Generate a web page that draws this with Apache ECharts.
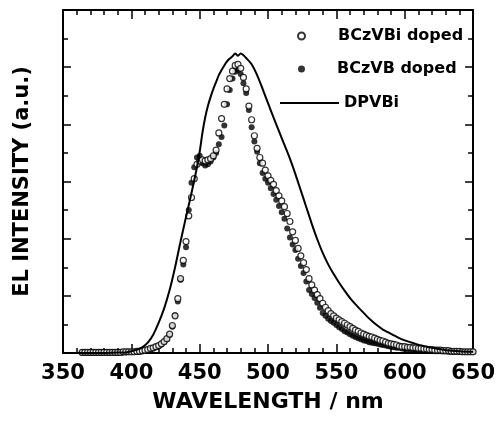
<!DOCTYPE html>
<html>
<head>
<meta charset="utf-8">
<script src="https://cdn.jsdelivr.net/npm/echarts@6/dist/echarts.min.js"></script>
<style>
  html, body { margin: 0; padding: 0; background: #fff; }
  #chart { width: 498px; height: 421px; }
</style>
</head>
<body>
<div id="chart"></div>
<script>
// wavelengths (nm) of the doped-device data points
var wavelengths = [
  364, 366, 368, 370, 372, 374, 376, 378, 380, 382,
  384, 386, 388, 390, 392, 394, 396, 398, 400, 402,
  404, 406, 408, 410, 412, 414, 416, 418, 420, 422,
  424, 426, 428, 430, 432, 434, 436, 438, 440, 442,
  444, 446, 448, 450, 452, 454, 456, 458, 460, 462,
  464, 466, 468, 470, 472, 474, 476, 478, 480, 482,
  484, 486, 488, 490, 492, 494, 496, 498, 500, 502,
  504, 506, 508, 510, 512, 514, 516, 518, 520, 522,
  524, 526, 528, 530, 532, 534, 536, 538, 540, 542,
  544, 546, 548, 550, 552, 554, 556, 558, 560, 562,
  564, 566, 568, 570, 572, 574, 576, 578, 580, 582,
  584, 586, 588, 590, 592, 594, 596, 598, 600, 602,
  604, 606, 608, 610, 612, 614, 616, 618, 620, 622,
  624, 626, 628, 630, 632, 634, 636, 638, 640, 642,
  644, 646, 648, 650
];
// BCzVBi doped (open circles)
var bczvbi = [
  0.01, 0.01, 0.01, 0.01, 0.01, 0.01, 0.01, 0.01, 0.01, 0.01,
  0.01, 0.01, 0.01, 0.01, 0.01, 0.02, 0.02, 0.02, 0.02, 0.02,
  0.03, 0.03, 0.04, 0.05, 0.06, 0.08, 0.09, 0.11, 0.13, 0.16,
  0.20, 0.25, 0.33, 0.48, 0.65, 0.95, 1.30, 1.62, 1.95, 2.40,
  2.72, 3.05, 3.30, 3.36, 3.38, 3.36, 3.38, 3.40, 3.45, 3.55,
  3.85, 4.10, 4.35, 4.62, 4.80, 4.93, 5.03, 5.05, 4.98, 4.82,
  4.62, 4.32, 4.08, 3.80, 3.58, 3.42, 3.32, 3.20, 3.10, 3.02,
  2.95, 2.84, 2.75, 2.66, 2.56, 2.44, 2.30, 2.12, 1.97, 1.83,
  1.70, 1.58, 1.46, 1.30, 1.19, 1.10, 1.02, 0.95, 0.87, 0.80,
  0.74, 0.69, 0.65, 0.61, 0.58, 0.55, 0.52, 0.49, 0.46, 0.43,
  0.40, 0.38, 0.35, 0.33, 0.31, 0.29, 0.28, 0.26, 0.24, 0.22,
  0.21, 0.19, 0.17, 0.16, 0.15, 0.14, 0.12, 0.11, 0.11, 0.10,
  0.10, 0.09, 0.09, 0.08, 0.08, 0.07, 0.07, 0.06, 0.06, 0.05,
  0.05, 0.05, 0.04, 0.04, 0.04, 0.03, 0.03, 0.03, 0.03, 0.02,
  0.02, 0.02, 0.02, 0.02
];
// BCzVB doped (filled circles)
var bczvb = [
  0.01, 0.01, 0.01, 0.01, 0.01, 0.01, 0.01, 0.01, 0.01, 0.01,
  0.01, 0.01, 0.01, 0.01, 0.01, 0.01, 0.01, 0.02, 0.02, 0.02,
  0.02, 0.02, 0.03, 0.04, 0.05, 0.06, 0.08, 0.10, 0.12, 0.15,
  0.19, 0.24, 0.32, 0.46, 0.66, 0.90, 1.28, 1.55, 1.85, 2.50,
  2.98, 3.25, 3.42, 3.45, 3.32, 3.28, 3.30, 3.35, 3.42, 3.50,
  3.65, 3.78, 3.98, 4.35, 4.60, 4.80, 4.92, 4.95, 4.88, 4.72,
  4.55, 4.25, 3.95, 3.70, 3.52, 3.32, 3.15, 3.05, 2.98, 2.88,
  2.78, 2.68, 2.57, 2.46, 2.35, 2.18, 2.02, 1.90, 1.80, 1.65,
  1.52, 1.40, 1.25, 1.10, 1.03, 0.96, 0.88, 0.79, 0.70, 0.65,
  0.60, 0.56, 0.53, 0.49, 0.45, 0.42, 0.38, 0.36, 0.33, 0.30,
  0.28, 0.26, 0.24, 0.22, 0.21, 0.19, 0.18, 0.17, 0.16, 0.15,
  0.14, 0.13, 0.12, 0.11, 0.10, 0.09, 0.09, 0.08, 0.07, 0.07,
  0.06, 0.06, 0.05, 0.05, 0.05, 0.04, 0.04, 0.04, 0.04, 0.03,
  0.03, 0.03, 0.03, 0.03, 0.02, 0.02, 0.02, 0.02, 0.02, 0.02,
  0.02, 0.02, 0.02, 0.02
];
// DPVBi (solid line)
var dpvbiWl = [
  360, 370, 380, 390, 396, 400, 404, 408, 412, 416,
  420, 424, 428, 432, 436, 440, 444, 448, 450, 452,
  454, 456, 458, 460, 462, 464, 466, 468, 470, 472,
  474, 476, 478, 480, 482, 484, 488, 492, 496, 500,
  504, 508, 512, 516, 520, 524, 528, 532, 536, 540,
  544, 548, 552, 556, 560, 564, 568, 572, 576, 580,
  584, 588, 592, 596, 600, 604, 608, 612, 616, 620,
  625, 630, 640, 650
];
var dpvbi = [
  0.00, 0.00, 0.00, 0.01, 0.01, 0.03, 0.06, 0.10, 0.18, 0.32,
  0.53, 0.78, 1.10, 1.50, 1.95, 2.38, 2.80, 3.25, 3.52, 3.85,
  4.12, 4.32, 4.48, 4.62, 4.74, 4.86, 4.95, 5.03, 5.10, 5.15,
  5.19, 5.24, 5.20, 5.24, 5.21, 5.16, 5.05, 4.86, 4.62, 4.37,
  4.12, 3.88, 3.64, 3.40, 3.13, 2.84, 2.55, 2.26, 1.99, 1.75,
  1.55, 1.38, 1.23, 1.09, 0.96, 0.85, 0.75, 0.65, 0.56, 0.48,
  0.41, 0.36, 0.31, 0.26, 0.22, 0.19, 0.16, 0.13, 0.11, 0.09,
  0.07, 0.05, 0.03, 0.02
];
var seriesNames = ['BCzVBi doped', 'BCzVB doped', 'DPVBi'];

var FONT = 'DejaVu Sans';

function pairs(xs, ys) {
  return xs.map(function (x, i) { return [x, ys[i]]; });
}

var chart = echarts.init(document.getElementById('chart'));

var tickLine = { color: '#000', width: 1.5 };
var axisLine = { show: true, onZero: false, lineStyle: { color: '#000', width: 2 } };

function xAxis(pos, labels) {
  return {
    type: 'value', position: pos, min: 350, max: 650, interval: 50,
    axisLine: axisLine,
    axisTick: { show: true, inside: true, length: 9, lineStyle: tickLine },
    minorTick: { show: true, splitNumber: 5, length: 5, lineStyle: tickLine },
    splitLine: { show: false },
    axisLabel: {
      show: labels, margin: 10, color: '#000',
      fontFamily: FONT, fontWeight: 'bold', fontSize: 21
    },
    name: labels ? 'WAVELENGTH / nm' : '',
    nameLocation: 'middle', nameGap: 38,
    nameTextStyle: { color: '#000', fontFamily: FONT, fontWeight: 'bold', fontSize: 22 }
  };
}

function yAxis(pos, title) {
  return {
    type: 'value', position: pos, min: 0, max: 6, interval: 1,
    axisLine: axisLine,
    axisTick: { show: true, inside: true, length: 8, lineStyle: tickLine },
    minorTick: { show: true, splitNumber: 2, length: 5, lineStyle: tickLine },
    splitLine: { show: false },
    axisLabel: { show: false },
    name: title ? 'EL INTENSITY (a.u.)' : '',
    nameLocation: 'middle', nameGap: 30, nameRotate: 90,
    nameTextStyle: { color: '#000', fontFamily: FONT, fontWeight: 'bold', fontSize: 21 }
  };
}

function legendText(padLeft) {
  return {
    color: '#000', fontFamily: FONT, fontWeight: 'bold', fontSize: 16,
    padding: [0, 0, 0, padLeft]
  };
}

var option = {
  animation: false,
  backgroundColor: '#fff',
  grid: { left: 63, right: 24, top: 10, bottom: 68 },
  xAxis: [xAxis('bottom', true), xAxis('top', false)],
  yAxis: [yAxis('left', true), yAxis('right', false)],
  legend: [
    {
      data: [{ name: seriesNames[0], icon: 'circle' }],
      left: 297, top: 28, padding: 0, itemWidth: 7, itemHeight: 7,
      selectedMode: false, textStyle: legendText(28)
    },
    {
      data: [{ name: seriesNames[1], icon: 'circle' }],
      left: 298, top: 61, padding: 0, itemWidth: 7, itemHeight: 7,
      selectedMode: false, textStyle: legendText(27)
    },
    {
      data: [{ name: seriesNames[2], icon: 'rect' }],
      left: 280, top: 95, padding: 0, itemWidth: 59, itemHeight: 2,
      selectedMode: false, textStyle: legendText(0)
    }
  ],
  series: [
    {
      name: seriesNames[1], type: 'scatter', symbol: 'circle', symbolSize: 6,
      itemStyle: { color: '#000' },
      data: pairs(wavelengths, bczvb), z: 2
    },
    {
      name: seriesNames[0], type: 'scatter', symbol: 'circle', symbolSize: 6,
      itemStyle: { color: '#fff', borderColor: '#000', borderWidth: 1.2 },
      data: pairs(wavelengths, bczvbi), z: 3
    },
    {
      name: seriesNames[2], type: 'line', showSymbol: false, smooth: 0.3,
      lineStyle: { color: '#000', width: 2 },
      itemStyle: { color: '#000' },
      data: pairs(dpvbiWl, dpvbi), z: 4
    }
  ]
};

chart.setOption(option);
</script>
</body>
</html>
